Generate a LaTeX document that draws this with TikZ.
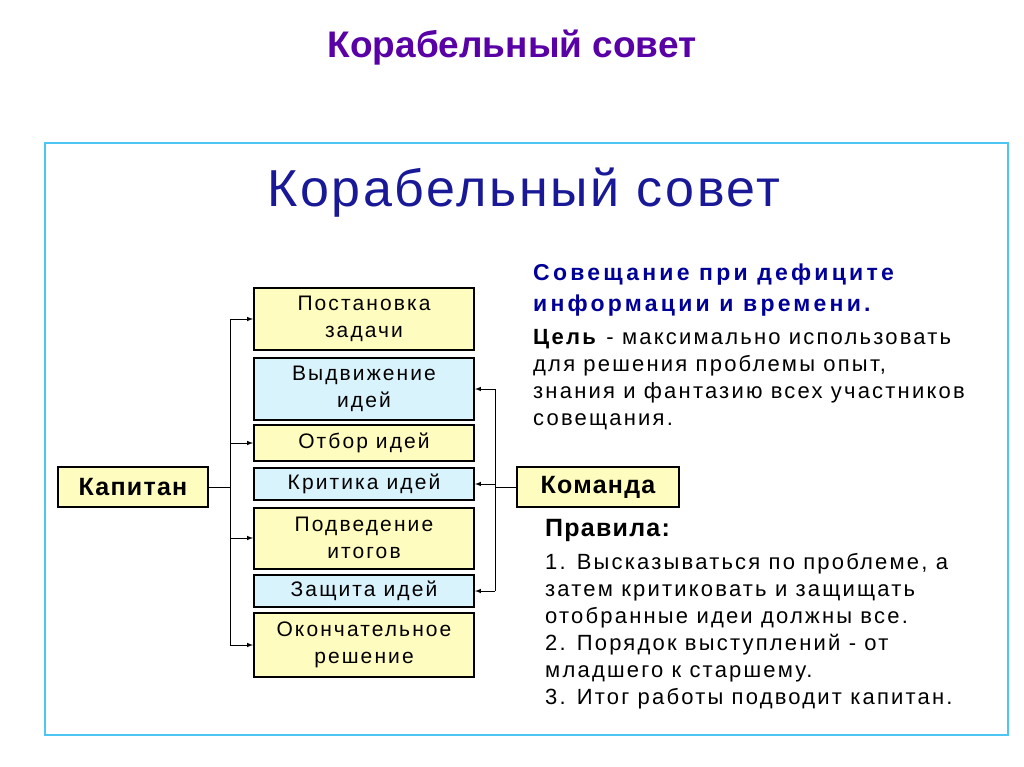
\documentclass[tikz,border=0pt]{standalone}
\usepackage{fontspec}
\setmainfont{Liberation Sans}
\newfontfamily\wide[LetterSpace=10]{Liberation Sans}
\newfontfamily\wider[LetterSpace=14]{Liberation Sans}
\newfontfamily\wideb[LetterSpace=5]{Liberation Sans}
\begin{document}
\begin{tikzpicture}[x=1pt,y=-1pt,
 bx/.style={draw=black,line width=2pt,minimum width=220pt,align=center,font=\wide\fontsize{21}{27}\selectfont,inner sep=1pt},
 yel/.style={bx,fill=yellow!25!white},
 cya/.style={bx,fill=cyan!15!white},
 ln/.style={line width=1pt},
 ar/.style={ln,-latex},
 tx/.style={anchor=west,inner sep=0pt,font=\wide\fontsize{22}{27}\selectfont,align=left}]
\useasboundingbox (0,0) rectangle (1024,767);
\node[font=\bfseries\fontsize{37}{40}\selectfont,text=violet!70!blue] (t) at (512,48) {Корабельный совет};
\draw[cyan!70!white,line width=2pt] (45,143) rectangle (1008,735);
\node[font=\wideb\fontsize{52}{56}\selectfont,text=blue!55!black!90] (t2) at (524,193) {Корабельный совет};
\node[yel,minimum height=62pt] (b1) at (364,319) {Постановка\\задачи};
\node[cya,minimum height=62pt] (b2) at (364,389) {Выдвижение\\идей};
\node[yel,minimum height=36pt] (b3) at (364,443) {Отбор идей};
\node[cya,minimum height=32pt] (b4) at (364,484) {Критика идей};
\node[yel,minimum height=61pt] (b5) at (364,538) {Подведение\\итогов};
\node[cya,minimum height=32pt] (b6) at (364,591) {Защита идей};
\node[yel,minimum height=64pt] (b7) at (364,645) {Окончательное\\решение};
\node[yel,minimum width=150pt,minimum height=40pt,font=\wideb\bfseries\fontsize{25}{28}\selectfont] (k) at (133,487) {Капитан};
\node[yel,minimum width=162pt,minimum height=40pt,font=\wideb\bfseries\fontsize{25}{28}\selectfont] (c) at (598,487) {Команда};
\coordinate (lt) at (230,487);
\draw[ln] (k.east) -- (lt);
\draw[ln] (230,319) -- (230,645);
\foreach \b in {b1,b3,b5,b7} \draw[ar] (230,0 |- \b.west) -- (\b.west);
\draw[ln] (c.west) -- (495,487);
\draw[ln] (495,389) -- (495,591);
\foreach \b in {b2,b4,b6} \draw[ar] (495,0 |- \b.east) -- (\b.east);
\node[tx,font=\wider\bfseries\fontsize{23}{31}\selectfont,text=blue!60!black] (h) at (533,290) {Совещание при дефиците\\информации и времени.};
\node[tx] (g) at (533,380) {\textbf{Цель} - максимально использовать\\для решения проблемы опыт,\\знания и фантазию всех участников\\совещания.};
\node[tx,font=\wideb\bfseries\fontsize{25}{28}\selectfont] (p) at (545,530) {Правила:};
\node[tx] (r) at (545,631) {1. Высказываться по проблеме, а\\затем критиковать и защищать\\отобранные идеи должны все.\\2. Порядок выступлений - от\\младшего к старшему.\\3. Итог работы подводит капитан.};
\end{tikzpicture}
\end{document}
